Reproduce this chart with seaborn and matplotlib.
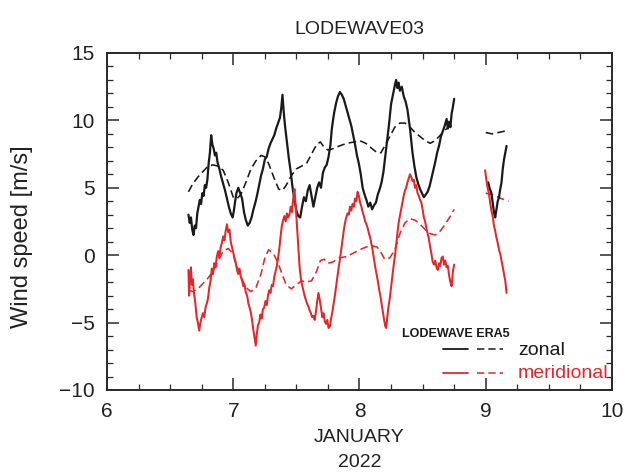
import pandas as pd
import matplotlib.pyplot as plt
import seaborn as sns
from matplotlib.ticker import MultipleLocator

# ---- LODEWAVE observations: zonal wind (m/s), day of January 2022 ----
zonal_obs_day = [
    6.645, 6.655, 6.665, 6.675, 6.685, 6.695, 6.705, 6.715, 6.725, 6.735,
    6.745, 6.755, 6.765, 6.775, 6.785, 6.795, 6.805, 6.815, 6.825, 6.835,
    6.845, 6.855, 6.865, 6.875, 6.89, 6.905, 6.92, 6.935, 6.95, 6.965,
    6.98, 6.995, 7.005, 7.015, 7.025, 7.04, 7.055, 7.07, 7.085, 7.10,
    7.115, 7.13, 7.145, 7.16, 7.175, 7.19, 7.205, 7.22, 7.235, 7.25,
    7.265, 7.28, 7.295, 7.31, 7.325, 7.34, 7.355, 7.37, 7.38, 7.39,
    7.40, 7.41, 7.425, 7.44, 7.455, 7.47, 7.485, 7.50, 7.515, 7.53,
    7.545, 7.56, 7.575, 7.59, 7.605, 7.62, 7.635, 7.65, 7.665, 7.68,
    7.695, 7.71, 7.725, 7.74, 7.755, 7.77, 7.78, 7.79, 7.80, 7.815,
    7.83, 7.845, 7.86, 7.875, 7.89, 7.905, 7.92, 7.935, 7.95, 7.965,
    7.98, 7.995, 8.01, 8.025, 8.04, 8.055, 8.07, 8.085, 8.10, 8.115,
    8.13, 8.145, 8.16, 8.175, 8.19, 8.205, 8.22, 8.235, 8.25, 8.265,
    8.28, 8.29, 8.30, 8.31, 8.32, 8.335, 8.35, 8.365, 8.38, 8.39,
    8.40, 8.41, 8.42, 8.435, 8.45, 8.465, 8.48, 8.495, 8.51, 8.525,
    8.54, 8.555, 8.57, 8.585, 8.60, 8.615, 8.63, 8.645, 8.66, 8.675,
    8.69, 8.70, 8.71, 8.72, 8.73, 8.74, 8.75,
]
zonal_obs_ms = [
    3.0, 2.4, 2.8, 1.9, 1.5, 2.2, 2.0, 3.1, 3.6, 4.1,
    3.8, 4.6, 4.4, 5.2, 5.0, 5.6, 6.8, 7.6, 8.9, 8.2,
    7.9, 7.4, 7.6, 6.9, 6.4, 5.8, 5.3, 4.8, 4.2, 3.6,
    3.1, 2.8, 3.3, 4.0, 4.6, 5.0, 4.6, 4.2, 3.2, 2.6,
    2.2, 2.4, 2.8, 3.4, 3.9, 4.5, 5.2, 5.9, 6.4, 7.1,
    7.3, 7.9, 8.3, 8.6, 8.9, 9.4, 9.8, 10.2, 10.9, 11.9,
    10.6, 9.6, 8.4, 7.2, 6.2, 5.0, 4.1, 3.3, 2.9, 2.8,
    3.6, 4.3, 4.0, 4.8, 5.2, 4.4, 3.6, 4.3, 5.0, 5.4,
    5.0, 6.1, 6.5, 6.7, 7.3, 8.2, 9.3, 10.0, 10.6, 11.3,
    11.8, 12.1, 11.9, 11.6, 11.1, 10.6, 10.1, 9.6, 8.9, 8.2,
    7.4, 6.8, 6.0, 5.0, 4.5, 4.1, 3.6, 3.9, 3.4, 3.7,
    3.9, 4.5, 4.9, 5.4, 6.2, 7.4, 8.6, 9.8, 11.2, 11.9,
    12.6, 13.0, 12.4, 12.8, 12.2, 12.5, 11.8, 11.4, 10.8, 10.1,
    9.4, 8.5, 7.6, 6.6, 5.8, 5.3, 4.9, 4.6, 4.3, 4.5,
    4.7, 5.1, 5.7, 6.3, 6.9, 7.6, 8.1, 8.8, 9.2, 9.6,
    10.1, 9.4, 9.9, 9.5, 10.5, 11.0, 11.6,
]
zonal_obs_day2 = [9.02, 9.03, 9.045, 9.055, 9.065, 9.075, 9.085, 9.095,
                  9.105, 9.115, 9.125, 9.135, 9.145, 9.155, 9.165]
zonal_obs_ms2 = [5.4, 5.0, 4.6, 3.9, 3.2, 2.8, 3.4, 4.0,
                 4.3, 4.9, 5.4, 6.4, 7.1, 7.6, 8.1]

# ---- LODEWAVE observations: meridional wind (m/s) ----
merid_obs_day = [
    6.645, 6.650, 6.658, 6.665, 6.672, 6.680, 6.690, 6.700, 6.710, 6.720,
    6.730, 6.740, 6.750, 6.760, 6.770, 6.780, 6.790, 6.800, 6.810, 6.820,
    6.830, 6.840, 6.850, 6.860, 6.870, 6.880, 6.890, 6.900, 6.910, 6.920,
    6.930, 6.940, 6.950, 6.960, 6.970, 6.980, 6.990, 7.000, 7.010, 7.020,
    7.030, 7.040, 7.050, 7.060, 7.070, 7.080, 7.090, 7.100, 7.110, 7.120,
    7.130, 7.140, 7.150, 7.160, 7.170, 7.178, 7.185, 7.195, 7.205, 7.215,
    7.225, 7.235, 7.245, 7.255, 7.265, 7.275, 7.285, 7.295, 7.305, 7.315,
    7.325, 7.335, 7.345, 7.355, 7.365, 7.375, 7.385, 7.395, 7.405, 7.415,
    7.425, 7.435, 7.445, 7.455, 7.465, 7.475, 7.485, 7.495, 7.505, 7.515,
    7.525, 7.535, 7.545, 7.555, 7.565, 7.575, 7.585, 7.595, 7.605, 7.615,
    7.625, 7.635, 7.645, 7.655, 7.665, 7.675, 7.685, 7.695, 7.705, 7.715,
    7.725, 7.735, 7.745, 7.755, 7.765, 7.775, 7.785, 7.795, 7.805, 7.815,
    7.825, 7.835, 7.845, 7.855, 7.865, 7.875, 7.885, 7.895, 7.905, 7.915,
    7.925, 7.935, 7.945, 7.955, 7.965, 7.975, 7.985, 7.995, 8.005, 8.015,
    8.025, 8.035, 8.045, 8.055, 8.065, 8.075, 8.085, 8.095, 8.105, 8.115,
    8.125, 8.135, 8.145, 8.155, 8.165, 8.175, 8.185, 8.195, 8.205, 8.212,
    8.220, 8.230, 8.240, 8.250, 8.260, 8.270, 8.280, 8.290, 8.300, 8.310,
    8.320, 8.330, 8.340, 8.350, 8.360, 8.370, 8.380, 8.390, 8.400, 8.410,
    8.420, 8.430, 8.440, 8.450, 8.460, 8.470, 8.480, 8.490, 8.500, 8.510,
    8.520, 8.530, 8.540, 8.550, 8.560, 8.570, 8.580, 8.590, 8.600, 8.610,
    8.620, 8.630, 8.640, 8.650, 8.660, 8.670, 8.680, 8.690, 8.700, 8.710,
    8.720, 8.730, 8.740, 8.750,
]
merid_obs_ms = [
    -1.1, -3.0, -1.6, -0.9, -2.2, -1.8, -2.9, -3.6, -4.6, -5.0,
    -5.6, -5.0, -4.6, -4.3, -4.6, -3.9, -3.6, -3.2, -2.4, -1.9,
    -1.0, -1.4, -0.6, -0.9, -0.1, 0.3, -0.2, 0.6, 0.9, 1.4,
    1.1, 1.8, 2.3, 1.7, 1.9, 1.0, 0.6, 0.2, -0.3, -0.6,
    -1.1, -1.4, -1.0, -1.6, -1.9, -2.3, -2.2, -2.8, -3.0, -3.6,
    -3.9, -4.3, -4.9, -5.6, -6.2, -6.7, -6.0, -5.2, -5.0, -4.4,
    -4.7, -4.0, -3.9, -3.4, -3.7, -3.0, -2.6, -2.8, -2.2, -2.3,
    -1.6, -1.2, -0.8, -0.2, 0.5, 1.4, 2.2, 2.6, 2.9, 2.5,
    3.1, 2.8, 3.0, 3.6, 3.2, 4.2, 4.9, 3.6, 2.1, 0.6,
    -0.8, -1.7, -2.2, -2.6, -3.0, -3.3, -3.6, -3.8, -4.1, -4.3,
    -4.6, -4.5, -4.8, -4.2, -3.4, -2.8, -3.3, -3.9, -4.6, -4.3,
    -4.9, -5.1, -4.8, -5.4, -5.3, -4.7, -4.2, -3.6, -3.0, -2.3,
    -1.6, -0.9, -0.3, 0.4, 1.1, 1.8, 2.4, 2.8, 3.1, 3.0,
    3.6, 3.3, 3.8, 3.6, 4.2, 4.0, 4.7, 4.4, 3.9, 3.6,
    3.2, 2.9, 2.5, 2.3, 2.0, 1.6, 1.3, 0.8, 0.3, -0.3,
    -0.9, -1.4, -1.9, -2.5, -3.0, -3.6, -4.2, -4.8, -5.3, -5.4,
    -4.6, -3.8, -3.2, -2.4, -1.6, -0.8, -0.1, 0.7, 1.6, 2.4,
    2.9, 3.4, 3.9, 4.4, 4.8, 5.0, 5.4, 5.7, 6.0, 5.8,
    5.5, 5.6, 5.0, 5.2, 4.6, 4.4, 4.1, 3.9, 3.4, 2.8,
    2.5, 2.0, 1.6, 1.2, 0.6, 0.1, -0.5, -0.7, -0.4, -0.9,
    -1.1, -0.6, -0.8, -0.2, -0.1, -0.7, -0.4, -0.9, -0.8, -1.5,
    -2.0, -2.3, -1.2, -0.7,
]
merid_obs_day2 = [8.995, 9.005, 9.015, 9.025, 9.035, 9.045, 9.055, 9.065, 9.075,
                  9.085, 9.095, 9.105, 9.115, 9.125, 9.135, 9.145, 9.155, 9.165]
merid_obs_ms2 = [6.3, 5.6, 5.0, 4.6, 3.9, 3.3, 2.9, 2.2, 1.8,
                 1.3, 0.9, 0.4, 0.1, -0.4, -0.9, -1.4, -1.9, -2.8]

# ---- ERA5 reanalysis ----
era5_day = [
    6.645, 6.68, 6.72, 6.76, 6.80, 6.84, 6.88, 6.92, 6.96, 7.00,
    7.03, 7.06, 7.10, 7.14, 7.18, 7.22, 7.25, 7.28, 7.32, 7.36,
    7.39, 7.42, 7.46, 7.50, 7.54, 7.58, 7.62, 7.66, 7.69, 7.72,
    7.75, 7.79, 7.84, 7.90, 7.96, 8.00, 8.05, 8.10, 8.14, 8.17,
    8.20, 8.24, 8.28, 8.32, 8.36, 8.40, 8.44, 8.48, 8.52, 8.56,
    8.60, 8.64, 8.68, 8.72, 8.75,
]
era5_zonal = [
    4.7, 5.3, 5.8, 6.2, 6.6, 6.7, 6.6, 6.3, 5.4, 4.3,
    4.2, 4.5, 5.4, 6.4, 7.0, 7.4, 7.3, 6.8, 5.8, 4.9,
    4.8, 5.2, 5.9, 6.4, 6.6, 6.8, 7.5, 8.2, 8.4, 8.0,
    7.8, 7.9, 8.1, 8.3, 8.4, 8.5, 8.3, 7.9, 7.6, 7.6,
    8.1, 8.8, 9.5, 9.8, 9.8, 9.5, 9.1, 8.8, 8.5, 8.3,
    8.5, 8.9, 9.3, 9.6, 9.7,
]
era5_merid = [
    -2.6, -2.7, -2.5, -2.1, -1.7, -1.2, -0.4, 0.3, 0.5, 0.1,
    -0.8, -1.6, -2.4, -2.7, -2.4, -1.4, -0.2, 0.4, 0.1, -0.7,
    -1.5, -2.2, -2.5, -2.2, -1.9, -2.0, -1.9, -1.2, -0.4, -0.3,
    -0.6, -0.5, -0.2, -0.1, 0.2, 0.4, 0.6, 0.7, 0.6, 0.2,
    -0.3, -0.2, 0.4, 1.6, 2.4, 2.7, 2.6, 2.3, 1.9, 1.6,
    1.5, 1.8, 2.3, 2.9, 3.4,
]
era5_day2 = [9.0, 9.05, 9.10, 9.15, 9.18]
era5_zonal2 = [9.1, 9.0, 9.1, 9.2, 9.2]
era5_merid2 = [4.6, 4.5, 4.3, 4.1, 4.0]

BLACK = '#1a1a1a'
RED = '#e5262b'
DASH = (0, (4.8, 2.6))


def segments(*pairs):
    # one row per sample, 'seg' keeps the gap between the two records
    parts = [pd.DataFrame({'day': d, 'speed': v, 'seg': k})
             for k, (d, v) in enumerate(pairs)]
    return pd.concat(parts, ignore_index=True)


sns.set_style('ticks')
plt.rcParams['font.family'] = ['Liberation Sans', 'DejaVu Sans']

fig = plt.figure(figsize=(6.27, 4.76), dpi=100)
ax = fig.add_axes([0.1707, 0.1807, 0.8053, 0.708])

series = [
    (segments((era5_day, era5_zonal), (era5_day2, era5_zonal2)), BLACK, DASH, 1.15),
    (segments((era5_day, era5_merid), (era5_day2, era5_merid2)), RED, DASH, 1.15),
    (segments((zonal_obs_day, zonal_obs_ms), (zonal_obs_day2, zonal_obs_ms2)), BLACK, '-', 1.6),
    (segments((merid_obs_day, merid_obs_ms), (merid_obs_day2, merid_obs_ms2)), RED, '-', 1.45),
]
for df, col, ls, lw in series:
    sns.lineplot(data=df, x='day', y='speed', units='seg', estimator=None,
                 sort=False, color=col, linestyle=ls, linewidth=lw, ax=ax)

ax.set_xlim(6, 10)
ax.set_ylim(-10, 15)
ax.xaxis.set_major_locator(MultipleLocator(1))
ax.xaxis.set_minor_locator(MultipleLocator(0.25))
ax.yaxis.set_major_locator(MultipleLocator(5))
ax.yaxis.set_minor_locator(MultipleLocator(1))
ax.tick_params(which='both', direction='in', top=True, right=True,
               color='#2a2a2a', labelsize=15, pad=9, labelcolor='#222222')
ax.tick_params(which='major', length=8.5, width=1.1)
ax.tick_params(which='minor', length=4.3, width=0.9)
for sp in ax.spines.values():
    sp.set_linewidth(1.4)
    sp.set_color('#2a2a2a')

ax.set_title('LODEWAVE03', fontsize=14, pad=14, color='#222222')
ax.set_ylabel('Wind speed [m/s]', fontsize=17, color='#222222')
ax.yaxis.set_label_coords(-0.147, 0.455)
ax.set_xlabel('JANUARY\n2022', fontsize=14, linespacing=1.6, color='#222222')
ax.xaxis.set_label_coords(0.5, -0.115)

# hand-made key in the lower right corner
ax.text(0.584, 0.158, 'LODEWAVE ERA5', transform=ax.transAxes,
        fontsize=9, fontweight='bold', va='baseline', color=BLACK)
for yk, col, name, yt in [(0.122, BLACK, 'zonal', 0.104),
                          (0.0513, RED, 'meridional', 0.0347)]:
    ax.plot([0.665, 0.715], [yk, yk], transform=ax.transAxes, color=col, lw=1.3)
    ax.plot([0.733, 0.784], [yk, yk], transform=ax.transAxes, color=col,
            lw=1.1, linestyle=DASH)
    ax.text(0.814, yt, name, transform=ax.transAxes, fontsize=14,
            va='baseline', color=col)

fig.savefig('out.png', dpi=100)
